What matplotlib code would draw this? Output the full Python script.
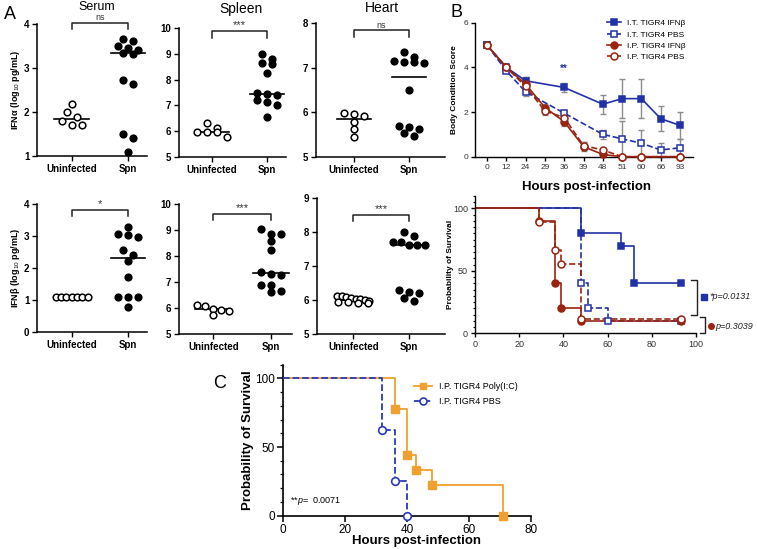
import numpy as np
import matplotlib
matplotlib.use("Agg")
import matplotlib.pyplot as plt
from matplotlib.ticker import MultipleLocator
from matplotlib.lines import Line2D

plt.rcParams['font.family'] = ['Liberation Sans', 'DejaVu Sans']
plt.rcParams['mathtext.fontset'] = 'custom'
plt.rcParams['mathtext.rm'] = 'Liberation Sans'
plt.rcParams['mathtext.it'] = 'Liberation Sans:italic'
plt.rcParams['mathtext.bf'] = 'Liberation Sans:bold'
plt.rcParams['axes.linewidth'] = 1.0

W, H = 757, 549
BLUE = '#2232a6'
RED = '#9a2412'
ORANGE = '#f0a030'

# ---- A: IFN levels, log10 pg/mL (uninfected, Spn) ----
groups = ["Uninfected", "Spn"]
ifna_serum_uninf = [2.18, 2.00, 1.88, 1.80, 1.70, 1.70]
ifna_serum_spn = [3.66, 3.62, 3.49, 3.45, 3.40, 3.35, 3.32, 2.73, 2.63, 1.50, 1.40, 1.08]
ifna_spleen_uninf = [6.32, 6.12, 5.97, 5.96, 5.95, 5.78]
ifna_spleen_spn = [8.98, 8.80, 8.66, 8.60, 8.25, 7.47, 7.45, 7.40, 7.20, 7.12, 7.02, 6.55]
ifna_heart_uninf = [5.98, 5.96, 5.91, 5.78, 5.62, 5.45]
ifna_heart_spn = [7.35, 7.24, 7.15, 7.13, 7.13, 7.10, 6.50, 5.70, 5.68, 5.62, 5.54, 5.48]
ifnb_serum_uninf = [1.10, 1.10, 1.10, 1.10, 1.10, 1.10, 1.10]
ifnb_serum_spn = [3.28, 3.06, 3.02, 2.96, 2.55, 2.40, 2.23, 1.73, 1.10, 1.10, 1.10, 0.78]
ifnb_spleen_uninf = [6.13, 6.06, 5.97, 5.94, 5.90, 5.72]
ifnb_spleen_spn = [9.04, 8.85, 8.85, 8.56, 8.22, 7.38, 7.31, 7.28, 6.90, 6.87, 6.67, 6.60]
ifnb_heart_uninf = [6.13, 6.11, 6.08, 6.06, 6.04, 6.02, 6.00, 5.97, 5.95, 5.93, 5.92, 5.91]
ifnb_heart_spn = [8.00, 7.87, 7.71, 7.71, 7.63, 7.63, 7.63, 6.30, 6.24, 6.20, 6.05, 5.98]
sig_top = ["ns", "***", "ns"]
sig_bottom = ["*", "***", "***"]

# ---- B: body condition score (mean, error) ----
hours = [0, 12, 24, 29, 36, 39, 48, 51, 60, 66, 93]
it_hours = [0, 12, 24, 36, 48, 51, 60, 66, 93]
it_ifnb = [5.0, 4.0, 3.4, 3.1, 2.35, 2.6, 2.6, 1.7, 1.4]
it_ifnb_err = [0, 0.05, 0.15, 0.22, 0.42, 0.87, 0.87, 0.55, 0.6]
it_pbs = [5.0, 3.85, 2.9, 1.95, 1.0, 0.8, 0.6, 0.3, 0.4]
it_pbs_err = [0, 0.05, 0.2, 0.1, 0.2, 0.8, 0.6, 0.3, 0.4]
ip_hours = [0, 12, 24, 29, 36, 39, 48, 51, 60, 93]
ip_ifnb = [5.0, 4.0, 3.25, 2.2, 1.57, 0.45, 0.1, 0, 0, 0]
ip_ifnb_err = [0, 0.05, 0.3, 0.15, 0.2, 0.2, 0.1, 0, 0, 0]
ip_pbs = [5.0, 4.0, 3.15, 2.05, 1.75, 0.5, 0.3, 0, 0, 0]
ip_pbs_err = [0, 0.05, 0.2, 0.2, 0.15, 0.15, 0.1, 0, 0, 0]

# ---- B: survival (%) ----
surv_it_ifnb_t = [0, 48, 66, 72, 93]
surv_it_ifnb = [100, 80, 70, 40, 40]
surv_it_pbs_t = [0, 48, 51, 60, 93]
surv_it_pbs = [100, 40, 20, 10, 10]
surv_ip_ifnb_t = [0, 29, 36, 39, 48, 93]
surv_ip_ifnb = [100, 90, 40, 20, 10, 10]
surv_ip_pbs_t = [0, 29, 36, 39, 48, 93]
surv_ip_pbs = [100, 88.9, 66.7, 55.6, 11.1, 11.1]

# ---- C: survival (%) ----
polyic_t = [0, 36, 40, 43, 48, 71]
polyic = [100, 77.8, 44.4, 33.3, 22.2, 0]
pbs_t = [0, 32, 36, 40]
pbs = [100, 62.5, 25, 0]

fig = plt.figure(figsize=(W / 100, H / 100), dpi=100)


def add_ax(l, t, r, b):
    ax = fig.add_axes([l / W, 1 - b / H, (r - l) / W, (b - t) / H])
    ax.spines[['top', 'right']].set_visible(False)
    return ax


def ftext(x, y, s, **kw):
    fig.text(x / W, 1 - y / H, s, **kw)


def ylabel_at(ax, s, xpx, **kw):
    ax.set_ylabel(s, va='center', **kw)
    bb = ax.get_position()
    ax.yaxis.set_label_coords((xpx / W - bb.x0) / bb.width, 0.5)


def xlabel_at(ax, s, xpx, ypx, **kw):
    ax.set_xlabel(s, va='center', **kw)
    bb = ax.get_position()
    ax.xaxis.set_label_coords((xpx / W - bb.x0) / bb.width,
                              ((1 - ypx / H) - bb.y0) / bb.height)


def px_scale(ax):
    bb = ax.get_position()
    x0, x1 = ax.get_xlim()
    y0, y1 = ax.get_ylim()
    return bb.width * W / (x1 - x0), bb.height * H / (y1 - y0)


def swarm_x(ax, center, vals, row_px=6.0, step_px=10.0, max_px=32.0):
    # GraphPad-like scatter: close values share a row, rows are centred
    sx, sy = px_scale(ax)
    vals = np.asarray(vals, float)
    order = np.argsort(-vals, kind='stable')
    xs = np.zeros(len(vals))
    rows, cur = [], [order[0]]
    for i in order[1:]:
        if (vals[cur[0]] - vals[i]) * sy < row_px:
            cur.append(i)
        else:
            rows.append(cur)
            cur = [i]
    rows.append(cur)
    for row in rows:
        n = len(row)
        step = step_px if n < 2 else min(step_px, max_px / (n - 1))
        for j, i in enumerate(row):
            xs[i] = center + (j - (n - 1) / 2) * step / sx
    return xs


# ================= Panel A =================
a_data = [(ifna_serum_uninf, ifna_serum_spn), (ifna_spleen_uninf, ifna_spleen_spn),
          (ifna_heart_uninf, ifna_heart_spn), (ifnb_serum_uninf, ifnb_serum_spn),
          (ifnb_spleen_uninf, ifnb_spleen_spn), (ifnb_heart_uninf, ifnb_heart_spn)]
a_rects = [(37, 24, 147, 156), (179, 28, 286, 157), (316, 23, 445, 157),
           (37, 204, 147, 332), (179, 204, 292, 334), (317, 198, 445, 334)]
a_xlims = [(-0.62, 1.34), (-0.6, 1.35), (-0.69, 1.65),
           (-0.62, 1.34), (-0.59, 1.36), (-0.65, 1.64)]
a_ylims = [(1, 4), (5, 10), (5, 8), (0, 4), (5, 10), (5, 9)]
a_brk = [4.03, 9.87, 7.84, 3.82, 9.63, 8.51]
a_sig = sig_top + sig_bottom

for k in range(6):
    ax = add_ax(*a_rects[k])
    ax.set_xlim(*a_xlims[k])
    ax.set_ylim(*a_ylims[k])
    lo, hi = a_ylims[k]
    ax.set_yticks(np.arange(lo, hi + 1))
    ax.set_xticks([0, 1])
    ax.set_xticklabels(groups, fontweight='bold', fontsize=7)
    for lab in ax.get_yticklabels():
        lab.set_fontweight('bold')
        lab.set_fontsize(7)
    ax.tick_params(length=3.5, width=1, pad=2)
    for side in ['left', 'bottom']:
        ax.spines[side].set_linewidth(1.1)
    for g, vals in enumerate(a_data[k]):
        xs = swarm_x(ax, g, vals)
        ax.plot(xs, vals, 'o', ms=4.8, mec='k', mew=1.1,
                mfc='white' if g == 0 else 'k', ls='none', clip_on=False, zorder=3)
        med = np.median(vals)
        ax.plot([g - 0.31, g + 0.31], [med, med], color='k', lw=1.2, zorder=2)
    sx, sy = px_scale(ax)
    y = a_brk[k]
    drop = 6.5 / sy
    ax.plot([0, 0, 1, 1], [y - drop, y, y, y - drop], color='#222', lw=1.1, clip_on=False)
    if '*' in a_sig[k]:
        ax.text(0.5, y + 1.0 / sy, a_sig[k], ha='center', va='bottom',
                fontsize=8, color='#333')
    else:
        ax.text(0.5, y + 2.2 / sy, a_sig[k], ha='center', va='baseline',
                fontsize=6.5, color='#333')

ylabel_at(fig.axes[0], 'IFNα (log$_{10}$ pg/mL)', 15, fontsize=6.5, fontweight='bold')
ylabel_at(fig.axes[3], 'IFNβ (log$_{10}$ pg/mL)', 15, fontsize=6.5, fontweight='bold')
ftext(97, 9.5, 'Serum', ha='center', va='baseline', fontsize=9)
ftext(241, 13.3, 'Spleen', ha='center', va='baseline', fontsize=10)
ftext(382, 11.7, 'Heart', ha='center', va='baseline', fontsize=10)

# ================= Panel B: body condition =================
axb = add_ax(475, 22.7, 693, 156.7)
axb.set_xlim(-0.62, 10.67)
axb.set_ylim(0, 6)
axb.set_yticks([0, 2, 4, 6])
axb.set_xticks(range(len(hours)))
axb.set_xticklabels([str(h) for h in hours])
axb.tick_params(labelsize=6, labelcolor='#333', length=3, width=1, pad=2)

b_series = [
    (it_hours, it_ifnb, it_ifnb_err, BLUE, '-', 's', True, 'I.T. TIGR4 IFNβ'),
    (it_hours, it_pbs, it_pbs_err, BLUE, '--', 's', False, 'I.T. TIGR4 PBS'),
    (ip_hours, ip_ifnb, ip_ifnb_err, RED, '-', 'o', True, 'I.P. TIGR4 IFNβ'),
    (ip_hours, ip_pbs, ip_pbs_err, RED, '--', 'o', False, 'I.P. TIGR4 PBS'),
]
handles = []
for hs, vals, err, col, ls, mk, filled, lab in b_series:
    xi = [hours.index(h) for h in hs]
    axb.errorbar(xi, vals, yerr=err, fmt='none', ecolor='#8c8c8c', elinewidth=1,
                 capsize=2.5, capthick=1, zorder=2, clip_on=False)
    ln, = axb.plot(xi, vals, color=col, ls=ls, lw=1.2, marker=mk, ms=5,
                   mfc=col if filled else 'white', mec=col, mew=1.1,
                   label=lab, clip_on=False, zorder=3)
    handles.append(ln)
axb.text(hours.index(36), 3.72, '**', color=BLUE, ha='center', va='bottom',
         fontsize=7, fontweight='bold')
ylabel_at(axb, 'Body Condition Score', 455, fontsize=6, fontweight='bold')
xlabel_at(axb, 'Hours post-infection', 587, 187, fontsize=9.5, fontweight='bold')
fig.legend(handles=handles, loc='upper left', bbox_to_anchor=(607 / W, 1 - 19.5 / H),
           frameon=False, fontsize=6, handlelength=1.7, handletextpad=0.7,
           labelspacing=0.42, borderpad=0, borderaxespad=0)

# ================= Panel B: survival =================
axs = add_ax(475, 196, 696, 333.3)
axs.set_xlim(0, 100)
axs.set_ylim(0, 110)
axs.set_xticks(range(0, 101, 20))
axs.set_yticks([0, 50, 100])
axs.yaxis.set_minor_locator(MultipleLocator(5))
axs.tick_params(labelsize=6.5, labelcolor='#333', length=3, width=1, pad=2)
axs.tick_params(which='minor', length=1.8, width=0.8)
s_series = [
    (surv_it_ifnb_t, surv_it_ifnb, BLUE, '-', 's', True),
    (surv_it_pbs_t, surv_it_pbs, BLUE, '--', 's', False),
    (surv_ip_ifnb_t, surv_ip_ifnb, RED, '-', 'o', True),
    (surv_ip_pbs_t, surv_ip_pbs, RED, '--', 'o', False),
]
for t, s, col, ls, mk, filled in s_series:
    axs.step(t, s, where='post', color=col, ls=ls, lw=1.2, zorder=2)
    axs.plot(t[1:], s[1:], ls='none', marker=mk, ms=5, mec=col, mew=1.1,
             mfc=col if filled else 'white', zorder=3, clip_on=False)
ylabel_at(axs, 'Probability of Survival', 450, fontsize=6, fontweight='bold')

# p-value brackets
axs.plot([97.6, 100.6, 100.6, 97.6], [42.7, 42.7, 14.7, 14.7], color='#222', lw=1, clip_on=False)
axs.plot([101.8, 104, 104, 101.8], [13.3, 13.3, 0, 0], color='#222', lw=1, clip_on=False)
axs.plot([103.4], [29.3], 's', color=BLUE, ms=4, clip_on=False)
axs.text(106.2, 29.3, '*p=0.0131', style='italic', fontsize=6.5, va='center', color='#222')
axs.plot([106.8], [5.8], 'o', color=RED, ms=4, clip_on=False)
axs.text(108.8, 5.8, 'p=0.3039', style='italic', fontsize=6.5, va='center', color='#222')

# ================= Panel C =================
axc = add_ax(283, 364.6, 531, 515.7)
axc.set_xlim(0, 80)
axc.set_ylim(0, 110)
axc.set_xticks(range(0, 81, 20))
axc.set_yticks([0, 50, 100])
axc.yaxis.set_minor_locator(MultipleLocator(10))
axc.tick_params(labelsize=8.5, length=4, width=1.1, pad=2)
axc.tick_params(which='minor', length=2.5, width=0.9)
axc.spines[['left', 'bottom']].set_linewidth(1.2)
axc.step(polyic_t, polyic, where='post', color=ORANGE, lw=1.3, zorder=2)
axc.plot(polyic_t[1:], polyic[1:], 's', color=ORANGE, ms=5.5, zorder=3, clip_on=False)
axc.step(pbs_t, pbs, where='post', color='#2a3ab8', ls='--', lw=1.3, zorder=4)
axc.plot(pbs_t[1:], pbs[1:], 'o', mfc='white', mec='#2a3ab8', mew=1.2, ms=5.5,
         zorder=5, clip_on=False)
ylabel_at(axc, 'Probability of Survival', 248, fontsize=9.5, fontweight='bold')
xlabel_at(axc, 'Hours post-infection', 417, 541, fontsize=9.5, fontweight='bold')
h1 = Line2D([], [], color=ORANGE, lw=1.3, marker='s', ms=5)
h2 = Line2D([], [], color='#2a3ab8', ls='--', lw=1.3, marker='o', ms=5, mfc='white', mew=1.2)
fig.legend(handles=[h1, h2], labels=['I.P. TIGR4 Poly(I:C)', 'I.P. TIGR4 PBS'],
           loc='upper left', bbox_to_anchor=(414 / W, 1 - 382 / H), frameon=False,
           fontsize=6.5, handlelength=2.0, handletextpad=0.8, labelspacing=0.7,
           borderpad=0, borderaxespad=0)
ftext(290, 503, r'**$p$=  0.0071', fontsize=6.5, va='baseline')

# panel letters
ftext(4, 19, 'A', fontsize=13, va='baseline')
ftext(450, 17, 'B', fontsize=13, va='baseline')
ftext(213, 388, 'C', fontsize=13, va='baseline')

fig.savefig('out.png', dpi=100)
